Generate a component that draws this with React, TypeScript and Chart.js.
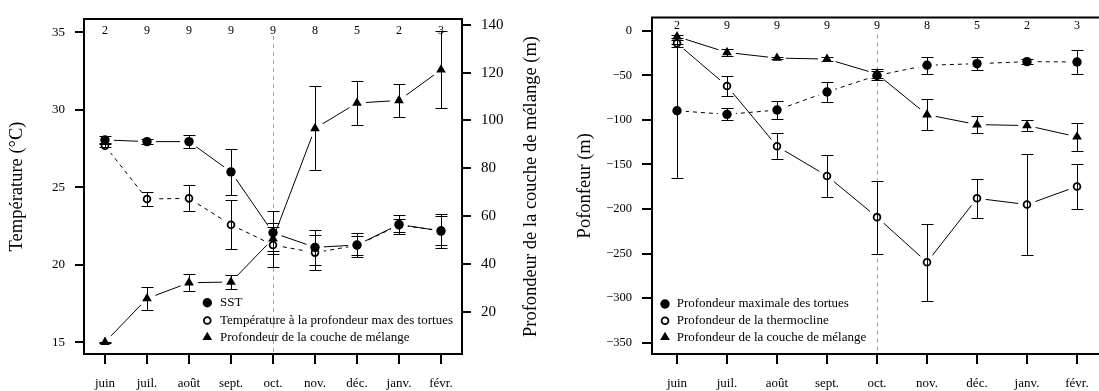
import React, { useEffect, useRef } from 'react';
import { Chart, registerables } from 'chart.js';

Chart.register(...registerables);

const FONT = '"Liberation Serif", "Times New Roman", Times, serif';
Chart.defaults.font.family = FONT;
Chart.defaults.color = '#000';

// ---- categories & annotations ----
const months = ['juin', 'juil.', 'août', 'sept.', 'oct.', 'nov.', 'déc.', 'janv.', 'févr.'];
const sampleSizes = [2, 9, 9, 9, 9, 8, 5, 2, 3];
const dividerMonth = 'oct.';

// ---- left panel (temperature / mixed layer depth) ----
const sstValues = [28.05, 27.94, 27.94, 25.99, 22.06, 21.12, 21.27, 22.6, 22.17];
const sstErrors = [0.23, 0.18, 0.43, 1.48, 1.39, 1.12, 0.8, 0.59, 1.08];
const tempAtMaxDepth = [27.67, 24.24, 24.28, 22.58, 21.27, 20.78, 21.25, 22.55, 22.2];
const tempAtMaxDepthErrors = [0.1, 0.48, 0.84, 1.59, 1.42, 1.14, 0.62, 0.42, 0.95];
const mixedLayerDepth = [7.2, 25.5, 32.1, 32.4, 50.5, 96.7, 107.3, 108.4, 121.2];
const mixedLayerDepthErrors = [0.3, 4.8, 3.6, 3.0, 5.0, 17.6, 9.3, 6.9, 16.1];
const temperatureTicks = [15, 20, 25, 30, 35];
const mixedLayerTicks = [20, 40, 60, 80, 100, 120, 140];

// ---- right panel (depths) ----
const turtleMaxDepth = [-89.8, -93.8, -89.0, -68.7, -50.3, -38.8, -37.0, -34.7, -35.1];
const turtleMaxDepthErrors = [75.0, 6.8, 10.2, 11.6, 5.5, 9.4, 7.0, 3.2, 13.3];
const thermoclineDepth = [-14.1, -62.0, -129.6, -162.9, -209.1, -259.7, -188.0, -195.0, -174.7];
const thermoclineDepthErrors = [4.0, 11.6, 14.4, 23.3, 41.0, 43.0, 21.6, 56.7, 25.0];
const mixedLayerDepthNeg = [-6.6, -24.4, -30.7, -31.8, -48.5, -94.2, -105.3, -106.4, -119.0];
const mixedLayerDepthNegErrors = [2.0, 3.9, 1.5, 2.0, 5.0, 17.5, 9.3, 6.5, 16.0];
const depthTicks = [0, -50, -100, -150, -200, -250, -300, -350];

type Marker = 'filled' | 'open' | 'triangle';
interface Series {
  label: string;
  values: number[];
  errors: number[];
  marker: Marker;
  dashed: boolean;
  axis: string;
}

function markerProps(m: Marker) {
  if (m === 'triangle') return { pointStyle: 'triangle', pointRadius: 5.6, pointBorderWidth: 0, pointBackgroundColor: '#000' };
  if (m === 'filled') return { pointStyle: 'circle', pointRadius: 4.7, pointBorderWidth: 0, pointBackgroundColor: '#000' };
  return { pointStyle: 'circle', pointRadius: 3.4, pointBorderWidth: 1.8, pointBackgroundColor: 'rgba(0,0,0,0)' };
}

function buildDatasets(series: Series[]) {
  const markers = series.map((s) => ({
    label: s.label,
    data: s.values,
    yAxisID: s.axis,
    showLine: false,
    pointBorderColor: '#000',
    ...markerProps(s.marker),
    errors: s.errors,
    order: 0,
  }));
  const lines = series.map((s) => ({
    label: s.label + ' – ligne',
    data: s.values,
    yAxisID: s.axis,
    borderColor: '#000',
    borderWidth: 1,
    borderDash: s.dashed ? [4, 4] : [],
    pointRadius: 0,
    fill: false,
    tension: 0,
    gapRadius: 9,
    order: 1,
  }));
  return [...markers, ...lines];
}

function drawMarker(ctx: CanvasRenderingContext2D, m: Marker, x: number, y: number) {
  ctx.save();
  ctx.fillStyle = '#000';
  ctx.strokeStyle = '#000';
  ctx.beginPath();
  if (m === 'triangle') {
    const r = 5.6;
    let rad = 0;
    ctx.moveTo(x + Math.sin(rad) * r, y - Math.cos(rad) * r);
    rad += (2 * Math.PI) / 3;
    ctx.lineTo(x + Math.sin(rad) * r, y - Math.cos(rad) * r);
    rad += (2 * Math.PI) / 3;
    ctx.lineTo(x + Math.sin(rad) * r, y - Math.cos(rad) * r);
    ctx.closePath();
    ctx.fill();
  } else if (m === 'filled') {
    ctx.arc(x, y, 4.7, 0, Math.PI * 2);
    ctx.fill();
  } else {
    ctx.lineWidth = 1.8;
    ctx.arc(x, y, 3.4, 0, Math.PI * 2);
    ctx.stroke();
  }
  ctx.restore();
}

const rPlotPlugin = {
  id: 'rPlot',
  beforeDatasetsDraw(chart: any, _args: any, opts: any) {
    const { ctx, chartArea: a, scales } = chart;
    const xs = scales.x;
    const px = Math.round(xs.getPixelForValue(months.indexOf(opts.divider))) + 0.5;
    ctx.save();
    ctx.strokeStyle = '#a3a3a3';
    ctx.lineWidth = 1;
    ctx.setLineDash([4, 4]);
    ctx.beginPath();
    ctx.moveTo(px, a.top + 17);
    ctx.lineTo(px, a.bottom);
    ctx.stroke();
    ctx.restore();

    ctx.save();
    ctx.fillStyle = '#000';
    ctx.font = `12px ${FONT}`;
    ctx.textAlign = 'center';
    ctx.textBaseline = 'middle';
    opts.counts.forEach((n: number, i: number) => {
      ctx.fillText(String(n), xs.getPixelForValue(i), a.top + opts.countsDy);
    });
    ctx.restore();
  },
  beforeDatasetDraw(chart: any, args: any) {
    const ds = chart.data.datasets[args.index];
    if (!ds.gapRadius) return;
    const ctx = chart.ctx;
    const r = ds.gapRadius;
    ctx.save();
    ctx.beginPath();
    ctx.rect(0, 0, chart.width, chart.height);
    args.meta.data.forEach((el: any) => {
      ctx.moveTo(el.x + r, el.y);
      ctx.arc(el.x, el.y, r, 0, Math.PI * 2);
    });
    ctx.clip('evenodd');
  },
  afterDatasetDraw(chart: any, args: any) {
    const ds = chart.data.datasets[args.index];
    if (!ds.gapRadius) return;
    chart.ctx.restore();
  },
  afterDatasetsDraw(chart: any) {
    const ctx = chart.ctx;
    chart.data.datasets.forEach((ds: any, i: number) => {
      if (!ds.errors) return;
      const meta = chart.getDatasetMeta(i);
      const ys = chart.scales[meta.yAxisID];
      ctx.save();
      ctx.strokeStyle = '#000';
      ctx.lineWidth = 1;
      ctx.setLineDash([]);
      meta.data.forEach((pt: any, j: number) => {
        const v = ds.data[j];
        const e = ds.errors[j];
        const x = Math.round(pt.x) + 0.5;
        const yHi = Math.round(ys.getPixelForValue(v + e)) + 0.5;
        const yLo = Math.round(ys.getPixelForValue(v - e)) + 0.5;
        ctx.beginPath();
        ctx.moveTo(x, yHi);
        ctx.lineTo(x, yLo);
        ctx.moveTo(x - 6, yHi);
        ctx.lineTo(x + 6, yHi);
        ctx.moveTo(x - 6, yLo);
        ctx.lineTo(x + 6, yLo);
        ctx.stroke();
      });
      ctx.restore();
    });
  },
  afterDraw(chart: any, _args: any, opts: any) {
    const { ctx, chartArea: a } = chart;
    // box
    ctx.save();
    ctx.strokeStyle = '#000';
    ctx.lineWidth = 2;
    ctx.strokeRect(a.left, a.top, a.right - a.left, a.bottom - a.top);
    ctx.restore();

    // legend
    const lg = opts.legend;
    ctx.save();
    ctx.font = `13px ${FONT}`;
    ctx.fillStyle = '#000';
    ctx.textAlign = 'left';
    ctx.textBaseline = 'middle';
    lg.items.forEach((it: any, k: number) => {
      const y = a.bottom + lg.rows[k];
      drawMarker(ctx, it.marker, a.left + lg.markerDx, y);
      ctx.fillText(it.label, a.left + lg.textDx, y);
    });
    ctx.restore();

    // right-side title reading bottom to top
    if (opts.rightTitle) {
      ctx.save();
      ctx.font = `${opts.rightTitle.size}px ${FONT}`;
      ctx.fillStyle = '#000';
      ctx.textAlign = 'center';
      ctx.textBaseline = 'middle';
      ctx.translate(a.right + opts.rightTitle.dx, (a.top + a.bottom) / 2);
      ctx.rotate(-Math.PI / 2);
      ctx.fillText(opts.rightTitle.text, 0, 0);
      ctx.restore();
    }
  },
};

const tickGrid = (len: number) => ({
  display: true,
  drawOnChartArea: false,
  drawTicks: true,
  tickLength: len,
  tickWidth: 2,
  tickColor: '#000',
  color: '#000',
  lineWidth: 2,
});

const xScale = () => ({
  type: 'category',
  offset: true,
  grid: { ...tickGrid(10), offset: false },
  border: { display: false },
  ticks: { font: { size: 13 }, padding: 12, maxRotation: 0, autoSkip: false, color: '#000' },
  afterFit: (s: any) => {
    s.height = 37;
  },
});

const fixedTicks = (vals: number[]) => (axis: any) => {
  axis.ticks = vals.map((v) => ({ value: v }));
};

function leftConfig(): any {
  const series: Series[] = [
    { label: 'SST', values: sstValues, errors: sstErrors, marker: 'filled', dashed: false, axis: 'y' },
    {
      label: 'Température à la profondeur max des tortues',
      values: tempAtMaxDepth,
      errors: tempAtMaxDepthErrors,
      marker: 'open',
      dashed: true,
      axis: 'y',
    },
    {
      label: 'Profondeur de la couche de mélange',
      values: mixedLayerDepth,
      errors: mixedLayerDepthErrors,
      marker: 'triangle',
      dashed: false,
      axis: 'y1',
    },
  ];
  return {
    type: 'line',
    data: { labels: months, datasets: buildDatasets(series) },
    options: {
      responsive: false,
      animation: false,
      devicePixelRatio: 1,
      events: [],
      layout: { padding: { top: 14, left: 0, right: 0, bottom: 0 } },
      scales: {
        x: xScale(),
        y: {
          type: 'linear',
          position: 'left',
          min: 14.24,
          max: 35.85,
          afterBuildTicks: fixedTicks(temperatureTicks),
          afterFit: (s: any) => {
            s.width = 84;
          },
          grid: tickGrid(9),
          border: { display: false },
          ticks: { font: { size: 13 }, padding: 10, color: '#000' },
          title: {
            display: true,
            text: 'Température (°C)',
            color: '#000',
            font: { size: 18.5 },
            padding: { top: 6, bottom: 0 },
          },
        },
        y1: {
          type: 'linear',
          position: 'right',
          min: 2.27,
          max: 142.47,
          afterBuildTicks: fixedTicks(mixedLayerTicks),
          afterFit: (s: any) => {
            s.width = 87;
          },
          grid: tickGrid(9),
          border: { display: false },
          ticks: { font: { size: 15 }, padding: 10, color: '#000' },
        },
      },
      plugins: {
        legend: { display: false },
        tooltip: { enabled: false },
        rPlot: {
          divider: dividerMonth,
          counts: sampleSizes,
          countsDy: 11.8,
          legend: {
            markerDx: 123.3,
            textDx: 136,
            rows: [-51.3, -33.5, -16.7],
            items: series.map((s) => ({ label: s.label, marker: s.marker })),
          },
          rightTitle: { text: 'Profondeur de la couche de mélange (m)', dx: 69, size: 18.5 },
        },
      },
    },
    plugins: [rPlotPlugin],
  };
}

function rightConfig(): any {
  const series: Series[] = [
    {
      label: 'Profondeur maximale des tortues',
      values: turtleMaxDepth,
      errors: turtleMaxDepthErrors,
      marker: 'filled',
      dashed: true,
      axis: 'y',
    },
    {
      label: 'Profondeur de la thermocline',
      values: thermoclineDepth,
      errors: thermoclineDepthErrors,
      marker: 'open',
      dashed: false,
      axis: 'y',
    },
    {
      label: 'Profondeur de la couche de mélange',
      values: mixedLayerDepthNeg,
      errors: mixedLayerDepthNegErrors,
      marker: 'triangle',
      dashed: false,
      axis: 'y',
    },
  ];
  return {
    type: 'line',
    data: { labels: months, datasets: buildDatasets(series) },
    options: {
      responsive: false,
      animation: false,
      devicePixelRatio: 1,
      events: [],
      layout: { padding: { top: 14, left: 0, right: 7, bottom: 0 } },
      scales: {
        x: xScale(),
        y: {
          type: 'linear',
          position: 'left',
          min: -362.6,
          max: 14.8,
          afterBuildTicks: fixedTicks(depthTicks),
          afterFit: (s: any) => {
            s.width = 103;
          },
          grid: tickGrid(10),
          border: { display: false },
          ticks: {
            font: { size: 12.5 },
            padding: 10,
            color: '#000',
            callback: (v: any) => (Number(v) < 0 ? '\u2212' + Math.abs(Number(v)) : String(v)),
          },
          title: {
            display: true,
            text: 'Pofonfeur (m)',
            color: '#000',
            font: { size: 18.5 },
            padding: { top: 25, bottom: 0 },
          },
        },
      },
      plugins: {
        legend: { display: false },
        tooltip: { enabled: false },
        rPlot: {
          divider: dividerMonth,
          counts: sampleSizes,
          countsDy: 8.5,
          legend: {
            markerDx: 13,
            textDx: 24.7,
            rows: [-50, -33.3, -16.7],
            items: series.map((s) => ({ label: s.label, marker: s.marker })),
          },
          rightTitle: null,
        },
      },
    },
    plugins: [rPlotPlugin],
  };
}

function Panel({ make, left, width }: { make: () => any; left: number; width: number }) {
  const ref = useRef<HTMLCanvasElement>(null);
  useEffect(() => {
    const chart = new Chart(ref.current as HTMLCanvasElement, make());
    return () => chart.destroy();
  }, [make]);
  return (
    <canvas
      ref={ref}
      width={width}
      height={391}
      style={{ position: 'absolute', left, top: 0, width, height: 391, display: 'block' }}
    />
  );
}

export default function App() {
  return (
    <div
      style={{
        position: 'fixed',
        left: 0,
        top: 0,
        width: 1099,
        height: 391,
        overflow: 'hidden',
        background: '#fff',
      }}
    >
      <Panel make={leftConfig} left={0} width={549} />
      <Panel make={rightConfig} left={549} width={560} />
    </div>
  );
}
